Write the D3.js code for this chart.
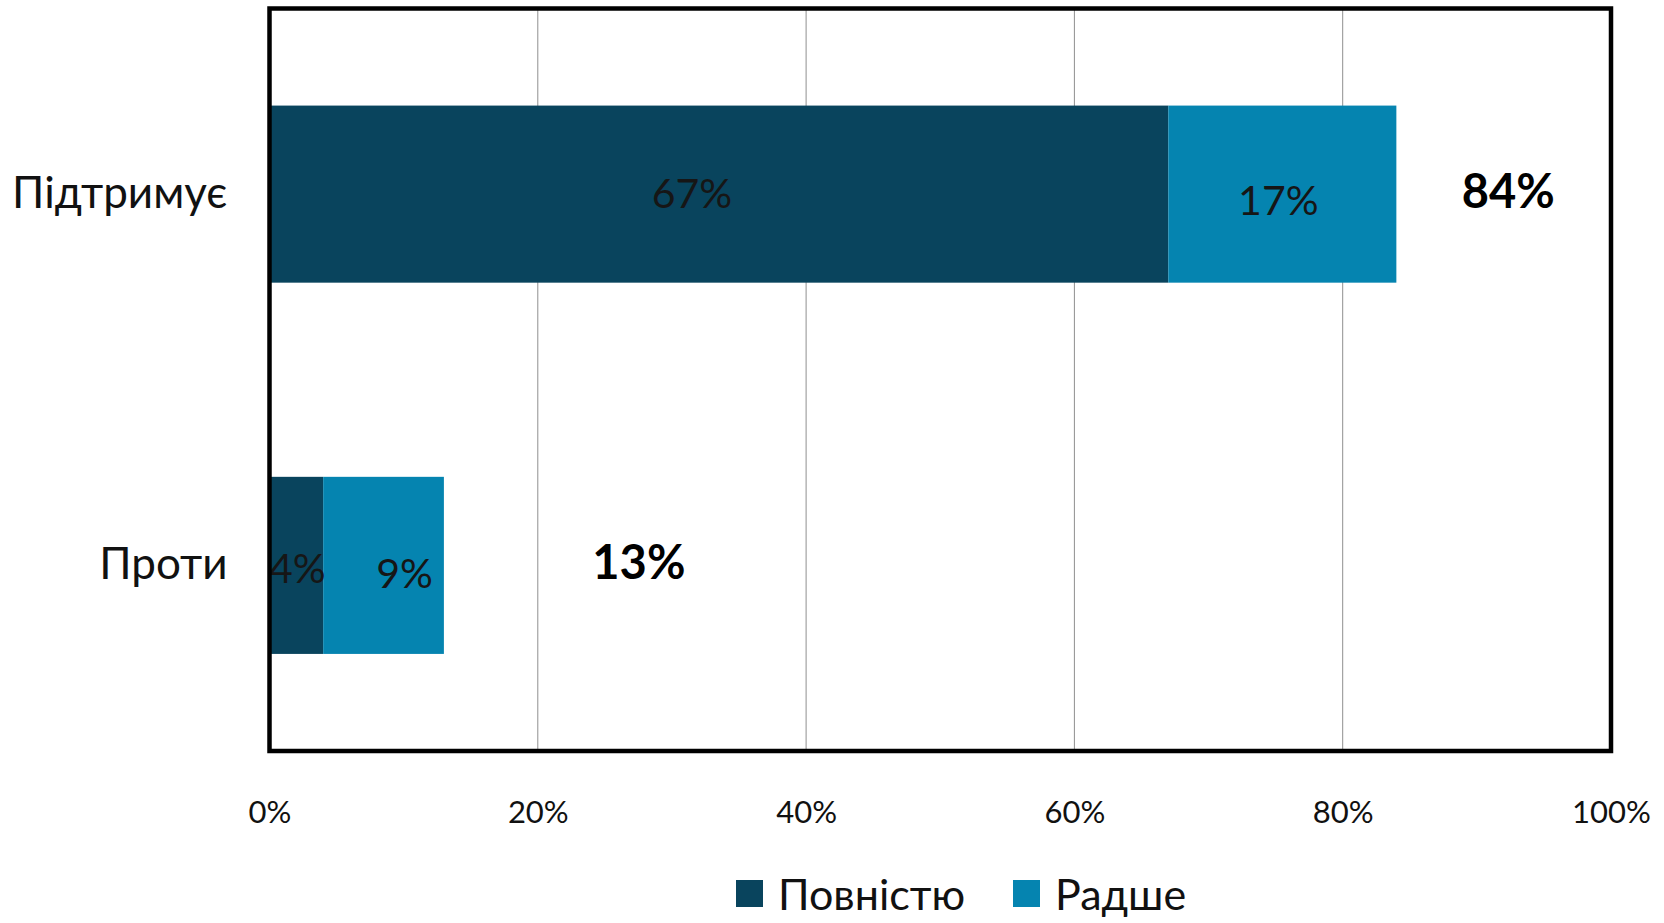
<!DOCTYPE html>
<html>
<head>
<meta charset="utf-8">
<script src="https://cdn.jsdelivr.net/npm/d3@7"></script>
<style>
  body { margin: 0; background: #fff; }
  svg { display: block; }
  text { font-family: Lato, "Open Sans", sans-serif; fill: #111; }
</style>
</head>
<body>
<script>
// дані
var categories = ["Підтримує", "Проти"];
var seriesNames = ["Повністю", "Радше"];
var fully = [67, 4];
var rather = [17, 9];
var totals = [84, 13];
var ticks = [0, 20, 40, 60, 80, 100];

var colors = ["#09445d", "#0584b0"];

// невеликі зсуви підписів [dx, dy] для кожного ряду і категорії, як у оригіналі
var segNudge = [
    [[-27, -2], [1, 2]],
    [[-4, 5], [21, 7]]
];
var totalNudge = [112, 195];

var W = 1664, H = 923;
var margin = {top: 8.5, right: 53, bottom: 172, left: 269.5};
var iw = W - margin.left - margin.right;
var ih = H - margin.top - margin.bottom;

var svg = d3.select("body").append("svg")
    .attr("width", W)
    .attr("height", H);

var g = svg.append("g")
    .attr("transform", "translate(" + margin.left + "," + margin.top + ")");

var x = d3.scaleLinear().domain([0, 100]).range([0, iw]);
var y = d3.scaleBand().domain(categories).range([0, ih])
    .paddingInner(0.523).paddingOuter(0.2615);

// сітка
g.append("g")
    .selectAll("line")
    .data(ticks.slice(1, -1))
    .enter()
    .append("line")
    .attr("x1", function(d){ return x(d); })
    .attr("x2", function(d){ return x(d); })
    .attr("y1", 0)
    .attr("y2", ih)
    .attr("stroke", "#8f8f8f")
    .attr("stroke-width", 1);

// стек
var rows = categories.map(function(c, i){
    return {cat: c, fully: fully[i], rather: rather[i], total: totals[i], i: i};
});
var stack = d3.stack().keys(["fully", "rather"]);
var layers = stack(rows);

var layer = g.selectAll("g.layer")
    .data(layers)
    .enter()
    .append("g")
    .attr("class", "layer")
    .attr("fill", function(d, i){ return colors[i]; });

layer.selectAll("rect")
    .data(function(d){ return d; })
    .enter()
    .append("rect")
    .attr("x", function(d){ return x(d[0]); })
    .attr("width", function(d){ return x(d[1]) - x(d[0]); })
    .attr("y", function(d){ return y(d.data.cat); })
    .attr("height", y.bandwidth());

// підписи сегментів
layers.forEach(function(l, li){
    g.append("g").selectAll("text")
        .data(l)
        .enter()
        .append("text")
        .attr("x", function(d){ return (x(d[0]) + x(d[1])) / 2 + segNudge[li][d.data.i][0]; })
        .attr("y", function(d){ return y(d.data.cat) + y.bandwidth() / 2 + segNudge[li][d.data.i][1]; })
        .attr("text-anchor", "middle")
        .attr("dominant-baseline", "central")
        .style("font-size", "41px")
        .style("fill", "#161616")
        .text(function(d){ return (d[1] - d[0]) + "%"; });
});

// підсумки
g.append("g").selectAll("text")
    .data(rows)
    .enter()
    .append("text")
    .attr("x", function(d){ return x(d.total) + totalNudge[d.i]; })
    .attr("y", function(d){ return y(d.cat) + y.bandwidth() / 2 - 4; })
    .attr("text-anchor", "middle")
    .attr("dominant-baseline", "central")
    .style("font-size", "47px")
    .style("font-weight", "bold")
    .style("fill", "#000")
    .text(function(d){ return d.total + "%"; });

// рамка
g.append("rect")
    .attr("x", 0).attr("y", 0)
    .attr("width", iw).attr("height", ih)
    .attr("fill", "none")
    .attr("stroke", "#000")
    .attr("stroke-width", 4.5);

// вісь X
var xAxis = d3.axisBottom(x)
    .tickValues(ticks)
    .tickSize(0)
    .tickPadding(50)
    .tickFormat(function(d){ return d + "%"; });

var ax = g.append("g")
    .attr("transform", "translate(0," + ih + ")")
    .call(xAxis);
ax.select(".domain").remove();
ax.selectAll("text")
    .style("font-size", "31px")
    .style("font-family", "Lato, sans-serif")
    .attr("fill", "#222");

// вісь Y
var yAxis = d3.axisLeft(y).tickSize(0).tickPadding(42);
var ay = g.append("g").call(yAxis);
ay.select(".domain").remove();
ay.selectAll("text")
    .style("font-size", "44px")
    .style("font-family", "Lato, sans-serif")
    .attr("fill", "#111");

// легенда
var legend = svg.append("g")
    .attr("transform", "translate(736,880)");
var lx = [0, 277];
seriesNames.forEach(function(n, i){
    var it = legend.append("g").attr("transform", "translate(" + lx[i] + ",0)");
    it.append("rect")
        .attr("width", 27).attr("height", 27)
        .attr("fill", colors[i]);
    it.append("text")
        .attr("x", 42)
        .attr("y", 13.5)
        .attr("dominant-baseline", "central")
        .style("font-size", "43px")
        .text(n);
});
</script>
</body>
</html>
